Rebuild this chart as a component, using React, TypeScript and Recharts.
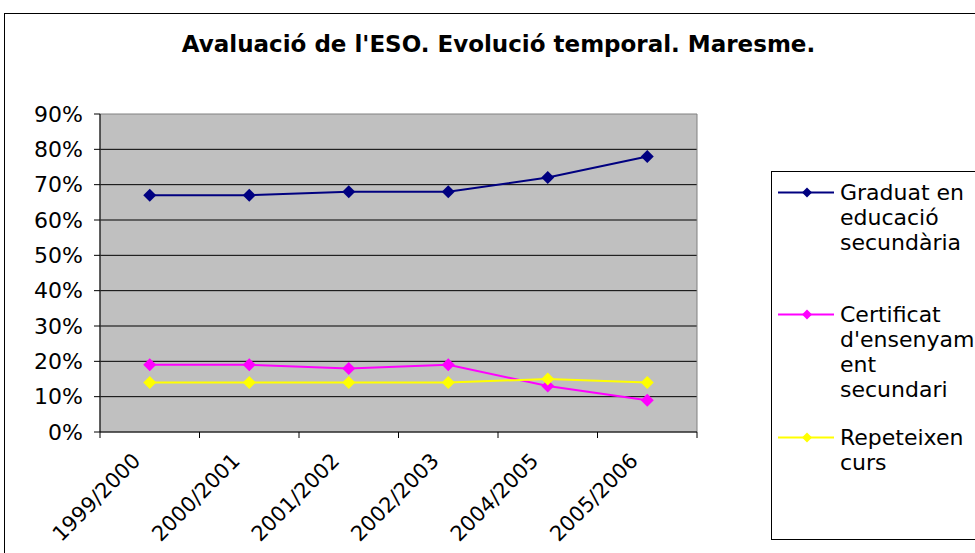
import React from "react";
import { CartesianGrid, Line, LineChart, ReferenceArea, XAxis, YAxis } from "recharts";

const CATEGORIES = ["1999/2000", "2000/2001", "2001/2002", "2002/2003", "2004/2005", "2005/2006"];
const GRADUAT = [67, 67, 68, 68, 72, 78];
const CERTIFICAT = [19, 19, 18, 19, 13, 9];
const REPETEIXEN = [14, 14, 14, 14, 15, 14];
const Y_TICKS = [0, 10, 20, 30, 40, 50, 60, 70, 80, 90];
const TITLE = "Avaluació de l'ESO. Evolució temporal. Maresme.";

const SERIES = [
  { key: "graduat", name: "Graduat en educació secundària", color: "#000080", values: GRADUAT, lines: ["Graduat en", "educació", "secundària"] },
  { key: "certificat", name: "Certificat d'ensenyament secundari", color: "#FF00FF", values: CERTIFICAT, lines: ["Certificat", "d'ensenyam", "ent", "secundari"] },
  { key: "repeteixen", name: "Repeteixen curs", color: "#FFFF00", values: REPETEIXEN, lines: ["Repeteixen", "curs"] },
];

const data = CATEGORIES.map((cat, i) => {
  const row: Record<string, string | number> = { cat };
  SERIES.forEach((s) => (row[s.key] = s.values[i]));
  return row;
});

const W = 975;
const H = 553;
const FONT = "'DejaVu Sans', Verdana, sans-serif";
const MARGIN = { top: 114, right: 278, bottom: 0, left: 0 };
const Y_AXIS_W = 100;
const X_AXIS_H = 121;
const BAND = (W - MARGIN.left - MARGIN.right - Y_AXIS_W) / CATEGORIES.length;

function Diamond({ cx, cy, fill, r = 6 }: any) {
  if (cx == null || cy == null) return null;
  return <polygon points={`${cx},${cy - r} ${cx + r},${cy} ${cx},${cy + r} ${cx - r},${cy}`} fill={fill} />;
}

// Excel-style category axis: ticks on the band edges, labels at the centre.
function XTick({ x, y, payload, index }: any) {
  const last = index === CATEGORIES.length - 1;
  const ax = x - 8;
  const ay = y + 30;
  return (
    <g>
      <line x1={x - BAND / 2} x2={x - BAND / 2} y1={y} y2={y + 6} stroke="#000" />
      {last && <line x1={x + BAND / 2} x2={x + BAND / 2} y1={y} y2={y + 6} stroke="#000" />}
      <text
        x={ax}
        y={ay}
        textAnchor="end"
        transform={`rotate(-45, ${ax}, ${ay})`}
        fontSize={21}
        fontFamily={FONT}
        fill="#000"
      >
        {payload.value}
      </text>
    </g>
  );
}

const LEGEND_TOPS = [8, 130, 253];

function LegendBox() {
  return (
    <div
      style={{
        position: "absolute",
        left: 771,
        top: 171,
        width: 230,
        height: 367,
        border: "1px solid #000",
        background: "#fff",
        fontFamily: FONT,
        fontSize: 22,
        lineHeight: "25px",
      }}
    >
      {SERIES.map((s, i) => (
        <div key={s.key} style={{ position: "absolute", left: 0, top: LEGEND_TOPS[i], display: "flex" }}>
          <svg width={68} height={25} style={{ flex: "none" }}>
            <line x1={6} x2={62} y1={12.5} y2={12.5} stroke={s.color} strokeWidth={2} />
            <Diamond cx={35} cy={12.5} r={5} fill={s.color} />
          </svg>
          <div style={{ whiteSpace: "nowrap" }}>
            {s.lines.map((l) => (
              <div key={l}>{l}</div>
            ))}
          </div>
        </div>
      ))}
    </div>
  );
}

export default function App() {
  return (
    <div style={{ position: "absolute", left: 0, top: 0, width: W, height: H, overflow: "hidden", background: "#fff" }}>
      <div
        style={{ position: "absolute", left: 4, top: 13, width: 1100, height: 700, border: "1px solid #000", boxSizing: "border-box" }}
      />
      <div
        style={{
          position: "absolute",
          left: 0,
          top: 31,
          width: 997,
          textAlign: "center",
          fontFamily: FONT,
          fontWeight: "bold",
          fontSize: 23,
        }}
      >
        {TITLE}
      </div>
      <div style={{ position: "absolute", left: 0, top: 0 }}>
        <LineChart width={W} height={H} data={data} margin={MARGIN}>
          <CartesianGrid vertical={false} horizontalValues={Y_TICKS.slice(1, -1)} stroke="#000" fill="#C0C0C0" fillOpacity={1} />
          <ReferenceArea y1={0} y2={90} fill="none" stroke="#808080" strokeWidth={1} ifOverflow="visible" />
          <XAxis
            dataKey="cat"
            scale="band"
            height={X_AXIS_H}
            interval={0}
            tickLine={false}
            tickSize={0}
            tickMargin={0}
            axisLine={{ stroke: "#000" }}
            tick={<XTick />}
          />
          <YAxis
            width={Y_AXIS_W}
            domain={[0, 90]}
            ticks={Y_TICKS}
            tickFormatter={(v) => `${v}%`}
            tickSize={6}
            tickMargin={11}
            tickLine={{ stroke: "#000" }}
            axisLine={{ stroke: "#000" }}
            tick={{ fill: "#000", fontSize: 22, fontFamily: FONT }}
          />
          {SERIES.map((s) => (
            <Line
              key={s.key}
              dataKey={s.key}
              name={s.name}
              stroke={s.color}
              strokeWidth={2}
              isAnimationActive={false}
              dot={(p: any) => <Diamond key={`${s.key}-${p.index}`} cx={p.cx} cy={p.cy} r={6.5} fill={s.color} />}
              activeDot={false}
            />
          ))}
        </LineChart>
      </div>
      <LegendBox />
    </div>
  );
}
